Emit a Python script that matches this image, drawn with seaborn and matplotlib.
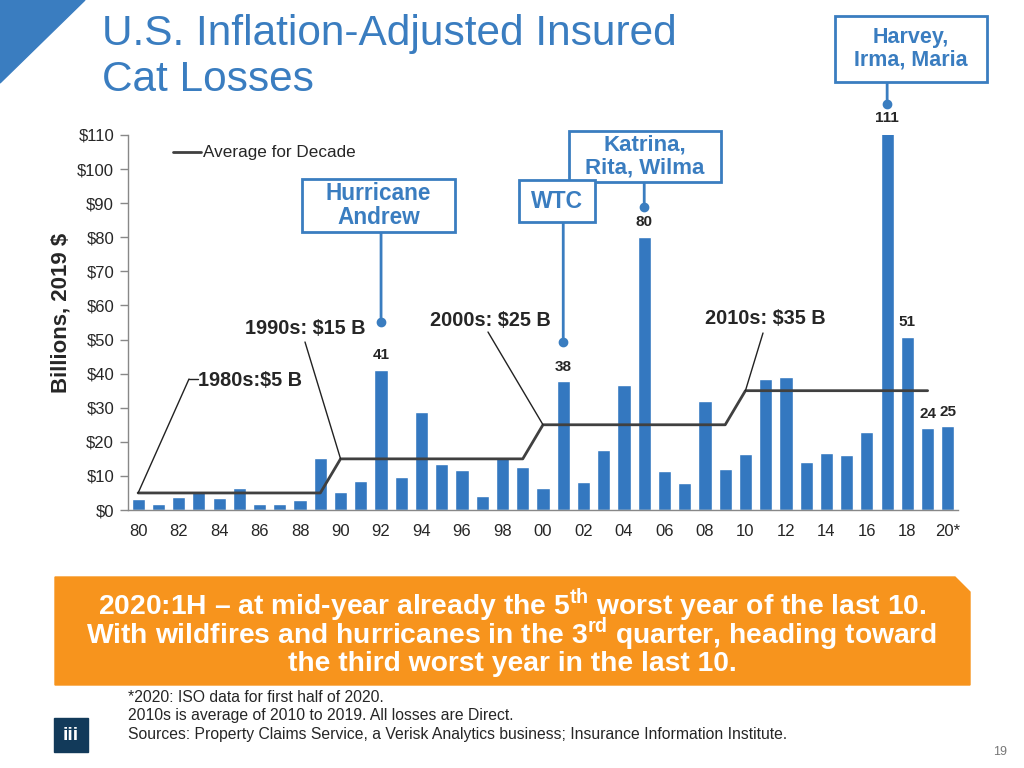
import numpy as np
import pandas as pd
import matplotlib
matplotlib.use("Agg")
import matplotlib.pyplot as plt
import seaborn as sns
from matplotlib.patches import Polygon, Rectangle

# ---------------- data ----------------
years = list(range(1980, 2021))
losses = [3.2, 1.8, 3.8, 5.6, 3.6, 6.5, 1.9, 1.9, 2.8, 15.3,
          5.2, 8.6, 41.2, 9.6, 28.7, 13.6, 11.8, 4.1, 15.6, 12.5,
          6.5, 37.7, 8.1, 17.6, 36.8, 80.2, 11.4, 7.9, 31.9, 12.1,
          16.5, 38.3, 39.1, 14.0, 16.7, 16.2, 22.8, 110.8, 50.8, 24.0, 24.5]
tick_labels = ["80", "82", "84", "86", "88", "90", "92", "94", "96", "98",
               "00", "02", "04", "06", "08", "10", "12", "14", "16", "18", "20*"]
decade_avg = {1980: 5, 1990: 15, 2000: 25, 2010: 35}
decade_labels = ["1980s:$5 B", "1990s: $15 B", "2000s: $25 B", "2010s: $35 B"]
labelled = {1992: "41", 2001: "38", 2005: "80", 2017: "111", 2018: "51", 2019: "24", 2020: "25"}

df = pd.DataFrame({"year": years, "loss": losses})
df["pos"] = np.arange(len(df))
avg_df = df[df["year"] < 2020].copy()
avg_df["avg"] = [decade_avg[y // 10 * 10] for y in avg_df["year"]]

BLUE = "#3478c0"
TITLE_BLUE = "#3a7dc0"
ORANGE = "#f7941d"
LINE = "#404040"

sns.set_theme(style="white")
plt.rcParams["font.family"] = ["Liberation Sans", "DejaVu Sans"]
plt.rcParams["mathtext.fontset"] = "custom"
plt.rcParams["mathtext.rm"] = "Liberation Sans"
plt.rcParams["mathtext.bf"] = "Liberation Sans:bold"

W, H = 1024, 768
fig = plt.figure(figsize=(10.24, 7.68), dpi=100, facecolor="white")
ax = fig.add_axes([128 / W, 1 - 510 / H, 830 / W, 375 / H])
ax.patch.set_alpha(0)

sns.barplot(data=df, x="pos", y="loss", color=BLUE, width=0.65, saturation=1,
            ax=ax, native_scale=True, zorder=2)
sns.lineplot(data=avg_df, x="pos", y="avg", color=LINE, lw=2, ax=ax, zorder=3,
             label="Average for Decade")

ax.set_xlim(-0.5, len(df) - 0.5)
ax.set_ylim(0, 110)
ax.set_yticks(range(0, 111, 10))
ax.set_yticklabels([f"${v}" for v in range(0, 111, 10)], fontsize=12)
ax.set_xticks(np.arange(0, len(df), 2))
ax.set_xticklabels(tick_labels, fontsize=12)
ax.set_xticks(np.arange(-0.5, len(df), 1), minor=True)
ax.tick_params(axis="x", which="major", length=0, pad=10)
ax.tick_params(axis="x", which="minor", length=5, color="#888888", width=1, direction="out")
ax.tick_params(axis="y", length=6, color="#888888", width=1, direction="out", pad=4, left=True)
for s in ["top", "right"]:
    ax.spines[s].set_visible(False)
for s in ["left", "bottom"]:
    ax.spines[s].set_color("#888888")
    ax.spines[s].set_linewidth(1)
ax.set_xlabel("")
ax.set_ylabel("Billions, 2019 $", fontsize=16, fontweight="bold")
ax.yaxis.set_label_coords(-0.068, 0.525)

leg = ax.legend(loc="center left", bbox_to_anchor=(173 / W, 1 - 153 / H),
                bbox_transform=fig.transFigure, frameon=False, fontsize=12.3,
                handlelength=1.65, handletextpad=0.1, borderpad=0, borderaxespad=0)

# value labels above selected bars
for yr, txt in labelled.items():
    p = yr - 1980
    ax.text(p, losses[p] + 4.2, txt, ha="center", va="center", fontsize=11,
            fontweight="bold", clip_on=False)

# full-figure overlay in pixel coordinates
fx = fig.add_axes([0, 0, 1, 1], zorder=5)
fx.set_xlim(0, W)
fx.set_ylim(H, 0)
fx.axis("off")
fx.patch.set_alpha(0)

# callout boxes with leader lines down to the bars
callouts = [
    ("Harvey,\nIrma, Maria", (835, 16, 152, 66), 2017, 8.3, 15.5),
    ("Katrina,\nRita, Wilma", (569, 131, 152, 51), 2005, 8.7, 16),
    ("WTC", (519, 180, 76, 42), 2001, 11.6, 16.5),
    ("Hurricane\nAndrew", (302, 179, 153, 53), 1992, 14.0, 16.3),
]
for txt, (bx, by, bw, bh), yr, off, fs in callouts:
    fx.add_patch(Rectangle((bx, by), bw, bh, fill=True, fc="white", ec=TITLE_BLUE, lw=2, zorder=5))
    fx.text(bx + bw / 2, by + bh / 2, txt, ha="center", va="center", color=TITLE_BLUE,
            fontsize=fs, fontweight="bold", linespacing=1.1, zorder=6)
    p = yr - 1980
    ax.annotate("", xy=(p, losses[p] + off), xytext=(p, H - (by + bh)),
                textcoords=("data", "figure pixels"), annotation_clip=False,
                arrowprops=dict(arrowstyle="-", color=TITLE_BLUE, lw=2, shrinkA=0, shrinkB=0))
    ax.plot([p], [losses[p] + off], "o", color=TITLE_BLUE, ms=6, clip_on=False, zorder=6)

# decade average labels with leader lines
dec_pos = [(250, 381), (305, 329), (490, 320), (765, 318)]
dec_lead = [(189, 379), (305, 342), (488, 332), (763, 333)]
for lab, (tx, ty), (lx, ly), dec in zip(decade_labels, dec_pos, dec_lead, sorted(decade_avg)):
    fx.text(tx, ty, lab, ha="center", va="center", fontsize=14.3, fontweight="bold")
    ax.annotate("", xy=(dec - 1980, decade_avg[dec]), xytext=(lx, H - ly),
                textcoords="figure pixels", annotation_clip=False,
                arrowprops=dict(arrowstyle="-", color="#222222", lw=1, shrinkA=0, shrinkB=0))
fx.plot([189, 198], [379, 379], color="#222222", lw=1)

# title and corner triangle
fx.add_patch(Polygon([(0, 0), (85, 0), (0, 83)], closed=True, color=TITLE_BLUE))
fx.text(102, 34, "U.S. Inflation-Adjusted Insured", color=TITLE_BLUE, fontsize=30.5, va="center", ha="left")
fx.text(102, 80, "Cat Losses", color=TITLE_BLUE, fontsize=30.5, va="center", ha="left")

# orange banner
fx.add_patch(Polygon([(55, 577), (955, 577), (970, 592), (970, 685), (55, 685)], closed=True, color=ORANGE))
banner = [r"2020:1H – at mid-year already the 5$^{\mathbf{th}}$ worst year of the last 10.",
          r"With wildfires and hurricanes in the 3$^{\mathbf{rd}}$ quarter, heading toward",
          "the third worst year in the last 10."]
for i, line in enumerate(banner):
    fx.text(512, 605 + i * 29.5, line, ha="center", va="center", color="white",
            fontsize=20.3, fontweight="bold")

# footnotes
notes = ["*2020: ISO data for first half of 2020.",
         "2010s is average of 2010 to 2019. All losses are Direct.",
         "Sources: Property Claims Service, a Verisk Analytics business; Insurance Information Institute."]
for i, n in enumerate(notes):
    fx.text(128, 697 + i * 18.5, n, ha="left", va="center", fontsize=11.3)

# logo and page number
fx.add_patch(Rectangle((54, 718), 34, 34, color="#123a5a"))
fx.text(71, 735, "iii", ha="center", va="center", color="white", fontsize=14, fontweight="bold")
fx.text(1000, 752, "19", ha="center", va="center", color="#777777", fontsize=9)

fig.savefig("out.png", dpi=100)
